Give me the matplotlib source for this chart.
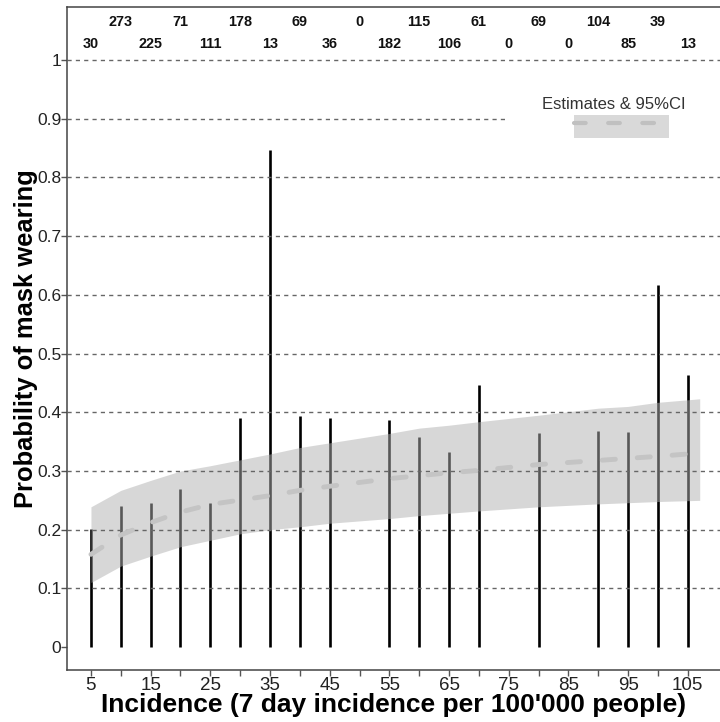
import numpy as np
import matplotlib.pyplot as plt
from matplotlib.patches import Patch, Rectangle
from matplotlib.lines import Line2D

plt.rcParams['font.family'] = ['Liberation Sans', 'DejaVu Sans']

# observed probability per incidence level
incidence = [5, 10, 15, 20, 25, 30, 35, 40, 45, 55, 60, 65, 70, 80, 90, 95, 100, 105]
prob = [0.202, 0.240, 0.246, 0.270, 0.245, 0.391, 0.847, 0.394, 0.391, 0.387,
        0.358, 0.333, 0.446, 0.365, 0.368, 0.367, 0.617, 0.463]

# number of observations per level (shown on top)
count_x = list(range(5, 110, 5))
counts = [30, 273, 225, 71, 111, 178, 13, 69, 36, 0, 182, 115, 106, 61, 0, 69, 0, 104, 85, 39, 13]

# model estimate and 95% CI
band_x = [5, 10, 15, 20, 25, 30, 35, 40, 45, 55, 60, 65, 70, 80, 90, 95, 100, 107]
band_lo = [0.110, 0.138, 0.155, 0.171, 0.182, 0.193, 0.200, 0.205, 0.211, 0.219,
           0.224, 0.228, 0.232, 0.239, 0.244, 0.246, 0.248, 0.250]
band_hi = [0.239, 0.267, 0.284, 0.300, 0.309, 0.319, 0.329, 0.340, 0.348, 0.364,
           0.373, 0.378, 0.384, 0.395, 0.407, 0.410, 0.417, 0.423]
est_x = [5, 10, 15, 20, 25, 35, 40, 45, 55, 65, 70, 80, 90, 100, 105]
est = [0.158, 0.191, 0.212, 0.230, 0.243, 0.258, 0.267, 0.274, 0.287, 0.297,
       0.301, 0.311, 0.318, 0.325, 0.329]

fig = plt.figure(figsize=(7.2, 7.22), dpi=100)
ax = fig.add_axes([0.093, 0.072, 0.907, 0.918])

ax.vlines(incidence, 0, prob, color='black', lw=1.9, zorder=2)
ax.fill_between(band_x, band_lo, band_hi, color='#b0b0b0', alpha=0.5, lw=0, zorder=3)
for yv in np.arange(0.1, 1.01, 0.1):
    ax.axhline(yv, color='#666666', lw=1.0, ls=(0, (3, 3)), zorder=3.5)
ax.plot(est_x, est, color='#c4c4c4', lw=3.5, ls=(0, (2.7, 4.5)),
        dash_capstyle='round', zorder=4)

# counts, alternating rows
for i, (cx, c) in enumerate(zip(count_x, counts)):
    yy = 0.977 if i % 2 == 1 else 0.944
    ax.text(cx, yy, str(c), transform=ax.get_xaxis_transform(), ha='center', va='center',
            fontsize=10.4, fontweight='bold', color='#111111')

# legend background and legend
ax.add_patch(Rectangle((0.675, 0.784), 0.33, 0.098, transform=ax.transAxes,
                       facecolor='white', edgecolor='none', zorder=5))
h = (Patch(facecolor='#d9d9d9', edgecolor='none'),
     Line2D([], [], color='#c0c0c0', lw=3, ls=(0, (2.8, 5.4)), dash_capstyle='round'))
leg = ax.legend([h], [''], title='Estimates & 95%CI', loc='upper center',
                bbox_to_anchor=(0.837, 0.881), frameon=False, handlelength=6.2,
                handleheight=2.0, handletextpad=-1.05, borderpad=0.2, labelspacing=0.2,
                fontsize=11, title_fontsize=12)
leg.get_title().set_color('#333333')
leg.set_zorder(6)

ax.set_xlim(0.98, 110.4)
ax.set_ylim(-0.039, 1.09)
ax.set_xticks(range(5, 106, 10))
ax.set_xticks(range(10, 101, 10), minor=True)
ax.set_yticks(np.arange(0, 1.01, 0.1))
ax.set_yticklabels(['0'] + ['%.1f' % v for v in np.arange(0.1, 0.95, 0.1)] + ['1'])
ax.tick_params(axis='both', which='both', length=4, width=1, color='#555555',
               labelcolor='#222222')
ax.tick_params(axis='x', labelsize=13.5, pad=1)
ax.tick_params(axis='y', labelsize=12.5, pad=0)
for s in ['left', 'bottom', 'top']:
    ax.spines[s].set_color('#444444')
    ax.spines[s].set_linewidth(1.1)
ax.spines['right'].set_visible(False)

ax.set_xlabel("Incidence (7 day incidence per 100'000 people)", fontsize=19,
              fontweight='bold', labelpad=-1)
ax.set_ylabel('Probability of mask wearing', fontsize=18.4, fontweight='bold', labelpad=-0.5)

fig.savefig('out.png', dpi=100)
